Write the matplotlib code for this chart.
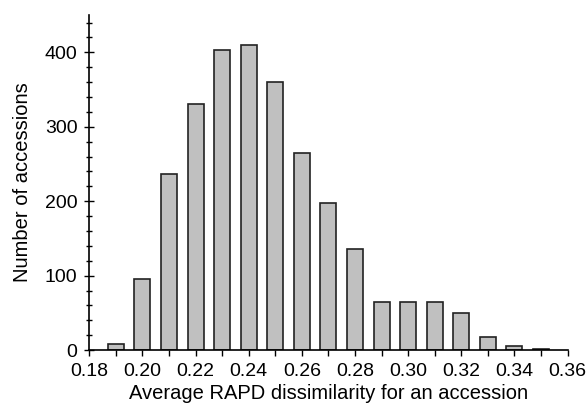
import matplotlib
matplotlib.use("Agg")
import matplotlib.pyplot as plt
from matplotlib.ticker import MultipleLocator

plt.rcParams["font.family"] = ["Liberation Sans", "DejaVu Sans"]

# histogram bins (bin centre) and counts
dissim = [0.19, 0.20, 0.21, 0.22, 0.23, 0.24, 0.25, 0.26, 0.27,
          0.28, 0.29, 0.30, 0.31, 0.32, 0.33, 0.34, 0.35]
counts = [8, 96, 236, 330, 403, 410, 360, 265, 198,
          136, 64, 65, 64, 50, 18, 6, 2]
xticks = [0.18, 0.20, 0.22, 0.24, 0.26, 0.28, 0.30, 0.32, 0.34, 0.36]
yticks = [0, 100, 200, 300, 400]

fig = plt.figure(figsize=(5.87, 4.09), dpi=100)
ax = fig.add_axes([0.152, 0.144, 0.815, 0.819])
ax.bar(dissim, counts, width=0.006, color="#c0c0c0", edgecolor="#222222", linewidth=1.2)

ax.set_xlim(0.18, 0.36)
ax.set_ylim(0, 450)
ax.set_xticks(xticks)
ax.set_xticklabels([f"{v:.2f}" for v in xticks])
ax.set_yticks(yticks)
ax.xaxis.set_minor_locator(MultipleLocator(0.01))
ax.yaxis.set_minor_locator(MultipleLocator(20))
ax.tick_params(axis="x", which="both", direction="out", length=4, width=1, labelsize=14, pad=5)
ax.tick_params(axis="y", which="major", direction="inout", length=7, width=1, labelsize=14, pad=5)
ax.tick_params(axis="y", which="minor", direction="inout", length=5, width=1)
for s in ("top", "right"):
    ax.spines[s].set_visible(False)
for s in ("left", "bottom"):
    ax.spines[s].set_linewidth(1.2)

ax.set_xlabel("Average RAPD dissimilarity for an accession", fontsize=14.5, labelpad=3)
ax.set_ylabel("Number of accessions", fontsize=14.5, labelpad=9)

fig.savefig("out.png", dpi=100, facecolor="white")
